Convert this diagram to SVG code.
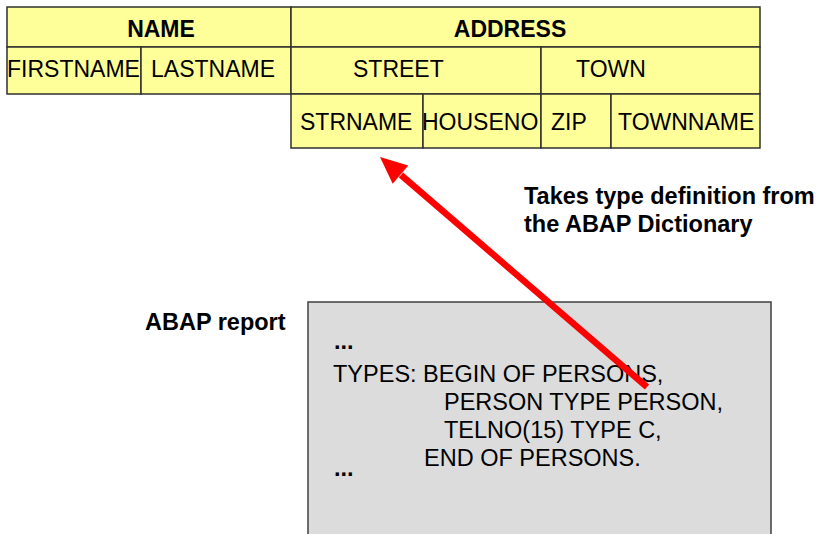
<svg xmlns="http://www.w3.org/2000/svg" width="819" height="534" viewBox="0 0 819 534">
<style>
.cell{fill:#ffff99;stroke:#303030;stroke-width:1.5}
.t{font-family:"Liberation Sans",Arial,sans-serif;font-size:23px;fill:#000}
.c{font-size:23.5px}
.b{font-weight:bold}
.m{text-anchor:middle}
</style>
<rect width="819" height="534" fill="#fff"/>
<g id="name"><rect class="cell" x="7" y="7" width="284" height="40"/><text class="t b m" x="161" y="37">NAME</text></g>
<g id="firstname"><rect class="cell" x="7" y="47" width="134" height="47"/><text class="t" x="7" y="77">FIRSTNAME</text></g>
<g id="lastname"><rect class="cell" x="141" y="47" width="150" height="47"/><text class="t" x="151" y="77">LASTNAME</text></g>
<g id="address"><rect class="cell" x="291" y="7" width="469" height="40"/><text class="t b m" x="510" y="37">ADDRESS</text></g>
<g id="street"><rect class="cell" x="291" y="47" width="250" height="47"/><text class="t" x="353" y="77">STREET</text></g>
<g id="town"><rect class="cell" x="541" y="47" width="219" height="47"/><text class="t" x="576" y="77">TOWN</text></g>
<g id="strname"><rect class="cell" x="291" y="94" width="132" height="54"/><text class="t" x="300" y="130">STRNAME</text></g>
<g id="houseno"><rect class="cell" x="423" y="94" width="118" height="54"/><text class="t" x="422" y="130">HOUSENO</text></g>
<g id="zip"><rect class="cell" x="541" y="94" width="70" height="54"/><text class="t" x="551" y="130">ZIP</text></g>
<g id="townname"><rect class="cell" x="611" y="94" width="149" height="54"/><text class="t" x="618" y="130">TOWNNAME</text></g>
<g id="report">
<rect x="308" y="302" width="463" height="250" fill="#dcdcdc" stroke="#404040" stroke-width="1.5"/>
<text class="t c b" x="334" y="349">...</text>
<text class="t c" x="333" y="382">TYPES: BEGIN OF PERSONS,</text>
<text class="t c" x="444" y="410">PERSON TYPE PERSON,</text>
<text class="t c" x="444" y="438">TELNO(15) TYPE C,</text>
<text class="t c" x="424" y="466">END OF PERSONS.</text>
<text class="t c b" x="334" y="476">...</text>
</g>
<g id="report-label"><text class="t c b" x="145" y="330">ABAP report</text></g>
<g id="dict-label">
<text class="t c b" x="524" y="204">Takes type definition from</text>
<text class="t c b" x="524" y="232">the ABAP Dictionary</text>
</g>
<g id="connectors">
<line x1="647" y1="387" x2="401" y2="175" stroke="#ff0000" stroke-width="6.5"/>
<polygon points="380,157 392.7,183.7 408.3,165.5" fill="#ff0000"/>
</g>
</svg>
